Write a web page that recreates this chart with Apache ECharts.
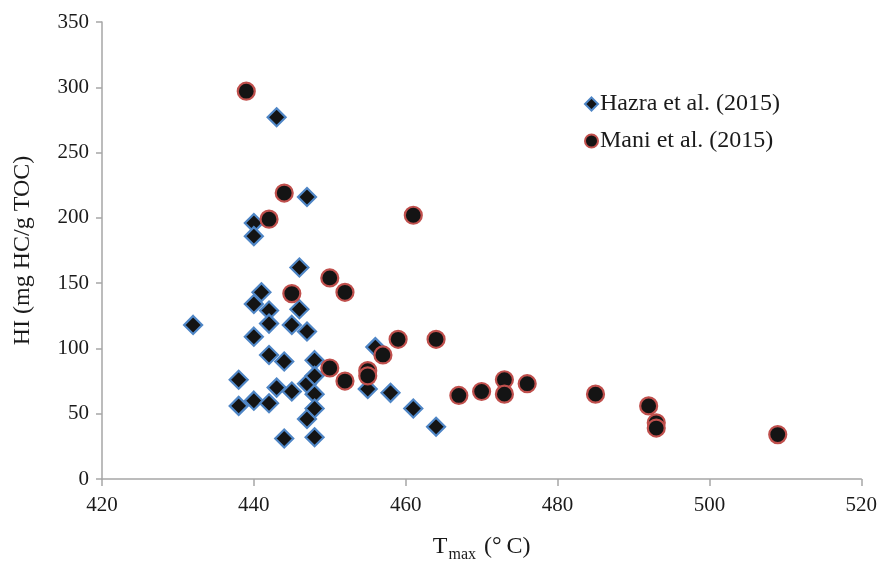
<!DOCTYPE html>
<html>
<head>
<meta charset="utf-8">
<script src="https://cdn.jsdelivr.net/npm/echarts@6/dist/echarts.min.js"></script>
<style>
  html, body { margin: 0; padding: 0; background: #fff; }
  #chart { width: 880px; height: 568px; }
</style>
</head>
<body>
<div id="chart"></div>
<script>
// Tmax (°C) vs HI (mg HC/g TOC)
const hazraTmax = [432, 438, 438, 440, 440, 440, 440, 440, 441, 442, 442, 442, 442, 443, 443, 444, 444, 445, 445, 446, 446, 447, 447, 447, 447, 448, 448, 448, 448, 448, 455, 456, 458, 461, 464];
const hazraHI   = [118,  76,  56, 196, 186, 134, 109,  60, 143, 129, 119,  95,  58, 277,  70,  90,  31, 118,  67, 162, 130, 216, 113,  73,  46,  91,  79,  65,  54,  32,  69, 101,  66,  54,  40];

const maniTmax = [439, 442, 444, 445, 450, 450, 452, 452, 455, 455, 457, 459, 461, 464, 467, 470, 473, 473, 476, 485, 492, 493, 493, 509];
const maniHI   = [297, 199, 219, 142, 154,  85, 143,  75,  83,  79,  95, 107, 202, 107,  64,  67,  76,  65,  73,  65,  56,  43,  39,  34];

const seriesNames = ['Hazra et al. (2015)', 'Mani et al. (2015)'];
const xTicks = { min: 420, max: 520, interval: 20 };
const yTicks = { min: 0, max: 350, interval: 50 };

const pairs = (xs, ys) => xs.map((x, i) => [x, ys[i]]);

const serif = '"Liberation Serif", "DejaVu Serif", serif';
const axisGray = '#a6a6a6';
const textColor = '#1a1a1a';

const chart = echarts.init(document.getElementById('chart'), null, { renderer: 'canvas' });

chart.setOption({
  backgroundColor: '#ffffff',
  animation: false,
  textStyle: { fontFamily: serif },
  grid: { left: 102, right: 15, top: 22, bottom: 84, containLabel: false },
  legend: {
    orient: 'vertical',
    left: 579,
    top: 87,
    itemWidth: 13,
    itemHeight: 13,
    itemGap: 13,
    textStyle: { fontFamily: serif, fontSize: 24, color: textColor, padding: [0, 0, 0, -3] },
    data: seriesNames
  },
  xAxis: {
    type: 'value',
    min: xTicks.min,
    max: xTicks.max,
    interval: xTicks.interval,
    splitLine: { show: false },
    axisLine: { show: true, onZero: false, lineStyle: { color: axisGray, width: 1.5 } },
    axisTick: { show: true, length: 7, lineStyle: { color: axisGray, width: 1.5 } },
    axisLabel: { fontFamily: serif, fontSize: 21, color: textColor, margin: 16 },
    name: '{t|T}{s|max}{t| (°\u2009C)}',
    nameLocation: 'middle',
    nameGap: 52,
    nameTextStyle: {
      rich: {
        t: { fontFamily: serif, fontSize: 24, color: textColor, lineHeight: 32, verticalAlign: 'middle' },
        s: { fontFamily: serif, fontSize: 16, color: textColor, lineHeight: 32, verticalAlign: 'bottom', padding: [13, 2, 0, 1] }
      }
    }
  },
  yAxis: {
    type: 'value',
    min: yTicks.min,
    max: yTicks.max,
    interval: yTicks.interval,
    splitLine: { show: false },
    axisLine: { show: true, onZero: false, lineStyle: { color: axisGray, width: 1.5 } },
    axisTick: { show: true, length: 6, lineStyle: { color: axisGray, width: 1.5 } },
    axisLabel: { fontFamily: serif, fontSize: 21, color: textColor, margin: 13 },
    name: 'HI (mg HC/g TOC)',
    nameLocation: 'middle',
    nameRotate: 90,
    nameGap: 67,
    nameTextStyle: { fontFamily: serif, fontSize: 24, color: textColor }
  },
  series: [
    {
      name: seriesNames[0],
      type: 'scatter',
      symbol: 'diamond',
      symbolSize: 18,
      data: pairs(hazraTmax, hazraHI),
      itemStyle: { color: '#141414', borderColor: '#4f86c6', borderWidth: 2.2, opacity: 1 },
      emphasis: { disabled: true },
      z: 2
    },
    {
      name: seriesNames[1],
      type: 'scatter',
      symbol: 'circle',
      symbolSize: 17,
      data: pairs(maniTmax, maniHI),
      itemStyle: { color: '#141414', borderColor: '#c0504d', borderWidth: 2.2, opacity: 1 },
      emphasis: { disabled: true },
      z: 3
    }
  ]
});
</script>
</body>
</html>
